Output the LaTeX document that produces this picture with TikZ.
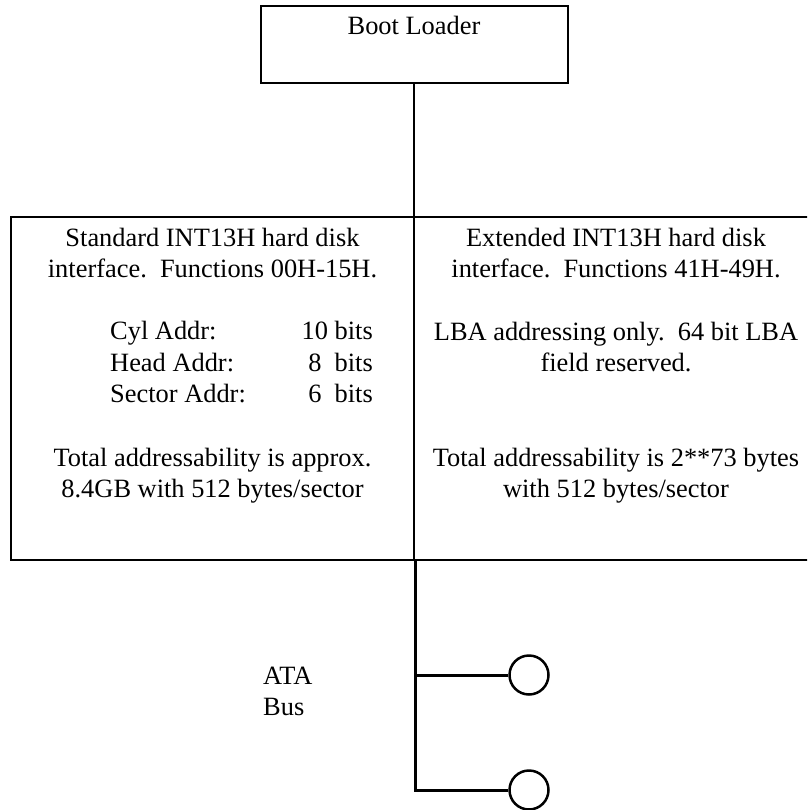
\documentclass[tikz,border=0pt]{standalone}
\usepackage{fontspec}
\setmainfont{Liberation Serif}
\usetikzlibrary{positioning}

\begin{document}
\begin{tikzpicture}[x=1pt,y=-1pt,
  box/.style={draw,line width=2pt,inner sep=0pt},
  txt/.style={align=center,inner sep=0pt,font=\fontsize{26.4}{31}\selectfont},
  bus/.style={line width=3pt},
  disk/.style={draw,circle,line width=2.5pt,minimum size=39pt,inner sep=0pt}]
\useasboundingbox (0,0) rectangle (807,810);
\clip (0,0) rectangle (807,810);
% boxes
\node[box,minimum width=307pt,minimum height=77pt] (boot) at (414,44.5) {};
\node[box,minimum width=403pt,minimum height=343pt] (std) at (212.5,388.5) {};
\node[box,minimum width=404pt,minimum height=343pt] (ext) at (616,388.5) {};
\node[txt,anchor=base] (bootlbl) at (414,35) {Boot Loader};
% standard interface (base = last line)
\node[txt,anchor=base] (stdhead) at (212.5,277) {Standard INT13H hard disk\\interface.\ \ Functions 00H-15H.};
\foreach \y/\l/\v in {339/{Cyl Addr:}/{10 bits},371/{Head Addr:}/{8\ \ bits},402/{Sector Addr:}/{6\ \ bits}}{
\node[txt,anchor=base west] (lbl\y) at (110,\y) {\l};
\node[txt,anchor=base east] (val\y) at (373,\y) {\v};
}
\node[txt,anchor=base] (stdtotal) at (212.5,497) {Total addressability is approx.\\8.4GB with 512 bytes/sector};
% extended interface
\node[txt,anchor=base] (exthead) at (616,277) {Extended INT13H hard disk\\interface.\ \ Functions 41H-49H.};
\node[txt,anchor=base] (extlba) at (616,371) {LBA addressing only.\ \ 64 bit LBA\\field reserved.};
\node[txt,anchor=base] (exttotal) at (616,497) {Total addressability is 2**73 bytes\\with 512 bytes/sector};
% bus
\node[disk] (disk1) at (529,675) {};
\node[disk] (disk2) at (529,790) {};
\node[txt,anchor=base west,align=left] (ata) at (263,715) {ATA\\Bus};
\draw[line width=2pt] (boot.south) -- (boot.south |- std.north);
\draw[bus] (std.south east) |- (disk2);
\draw[bus] (std.south east |- disk1) -- (disk1);
\end{tikzpicture}
\end{document}
